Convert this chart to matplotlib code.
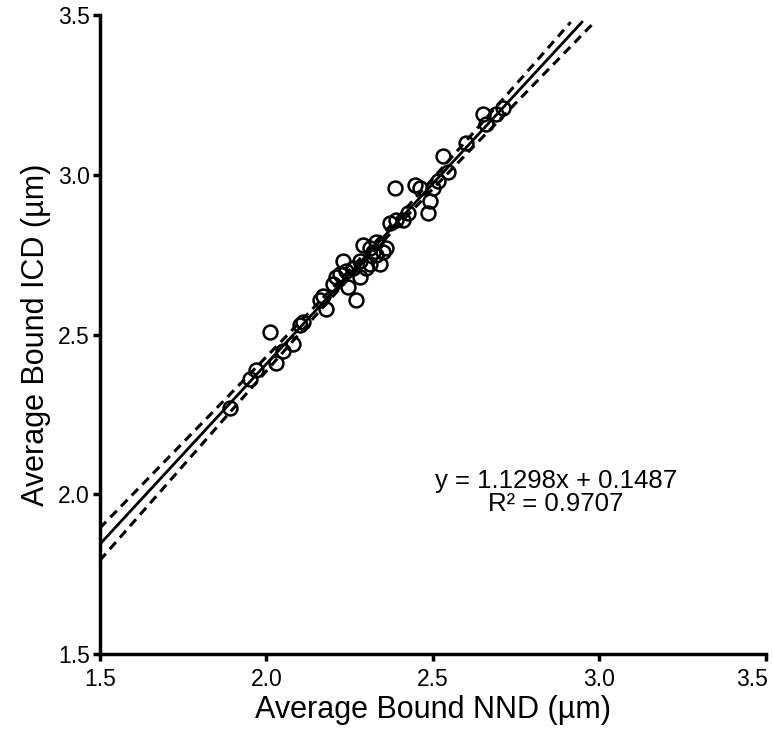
import numpy as np
from matplotlib import pyplot as plt
from matplotlib.transforms import offset_copy

plt.rcParams['font.family'] = ['Liberation Sans', 'DejaVu Sans']

# Average bound NND / ICD (um)
nnd = [1.89, 1.95, 1.97, 2.01, 2.03, 2.05, 2.08, 2.10, 2.11, 2.16,
       2.17, 2.18, 2.20, 2.21, 2.22, 2.23, 2.24, 2.245, 2.26, 2.27,
       2.28, 2.28, 2.29, 2.30, 2.31, 2.31, 2.32, 2.33, 2.33, 2.34,
       2.35, 2.36, 2.37, 2.386, 2.39, 2.41, 2.425, 2.446, 2.46, 2.485,
       2.49, 2.50, 2.515, 2.53, 2.545, 2.60, 2.65, 2.66, 2.69, 2.71]
icd = [2.27, 2.36, 2.39, 2.51, 2.41, 2.45, 2.47, 2.53, 2.54, 2.61,
       2.62, 2.58, 2.66, 2.68, 2.69, 2.73, 2.70, 2.65, 2.71, 2.61,
       2.68, 2.73, 2.78, 2.71, 2.72, 2.77, 2.76, 2.75, 2.79, 2.72,
       2.76, 2.77, 2.85, 2.96, 2.86, 2.86, 2.88, 2.97, 2.96, 2.88,
       2.92, 2.96, 2.98, 3.06, 3.01, 3.10, 3.19, 3.16, 3.19, 3.21]

slope = 1.1298
intercept = 0.1487
r2 = 0.9707

ticks = [1.5, 2.0, 2.5, 3.0, 3.5]

x = np.array(nnd)
y = np.array(icd)
n = len(x)

# 95% confidence band of the regression line
xfit = np.linspace(1.5, 3.0, 400)
yfit = slope * xfit + intercept
resid = y - (slope * x + intercept)
s = np.sqrt(np.sum(resid**2) / (n - 2))
sxx = np.sum((x - x.mean())**2)
half = 2.01 * s * np.sqrt(1.0 / n + (xfit - x.mean())**2 / sxx)

def cut(v):
    # lines in the original stop just under the top of the axis
    v = v.copy()
    v[v > 3.48] = np.nan
    return v

fig = plt.figure(figsize=(7.73, 7.30), dpi=100)
ax = fig.add_axes([0.129, 0.104, 0.862, 0.875])

ax.plot(x, y, 'o', mfc='none', mec='black', mew=1.8, ms=10, zorder=3)
ax.plot(xfit, cut(yfit), '-', color='black', lw=2, zorder=2)
ax.plot(xfit, cut(yfit + half), color='black', lw=2.2, ls=(0, (3, 2)), zorder=2)
ax.plot(xfit, cut(yfit - half), color='black', lw=2.2, ls=(0, (3, 2)), zorder=2)

ax.set_xlim(1.5, 3.5)
ax.set_ylim(1.5, 3.5)
ax.set_xticks(ticks)
ax.set_yticks(ticks)
ax.spines['top'].set_visible(False)
ax.spines['right'].set_visible(False)
ax.spines['left'].set_linewidth(2.5)
ax.spines['bottom'].set_linewidth(2.5)
ax.tick_params(direction='out', length=5, width=2.5, labelsize=16.5)
ax.tick_params(axis='x', pad=5)
ax.tick_params(axis='y', pad=2)

ax.set_xlabel('Average Bound NND (µm)', fontsize=22, labelpad=3)
ax.set_ylabel('Average Bound ICD (µm)', fontsize=22, labelpad=5)

ax.text(2.87, 2.08, f'y = {slope}x + {intercept}\nR² = {r2}',
        ha='center', va='top', fontsize=18.5, linespacing=0.95)

# last x label sits a little inside the figure edge
fig.canvas.draw()
last = ax.get_xticklabels()[-1]
last.set_transform(offset_copy(last.get_transform(), fig=fig, x=-14, y=0, units='dots'))

fig.savefig('out.png', dpi=100)
